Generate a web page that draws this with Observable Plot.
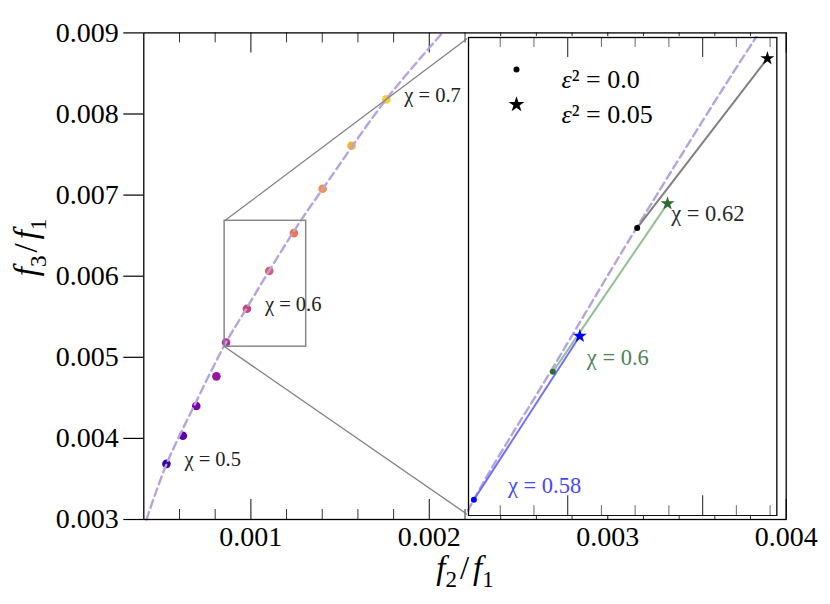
<!DOCTYPE html>
<html><head><meta charset="utf-8">
<script src="https://cdn.jsdelivr.net/npm/d3@7"></script>
<script src="https://cdn.jsdelivr.net/npm/@observablehq/plot@0.6"></script>
<style>
body{margin:0;background:#fff;}
#wrap{position:relative;width:830px;height:604px;}
#wrap svg{position:absolute;left:0;top:0;overflow:hidden;}
#wrap svg, #wrap svg text, #wrap svg tspan{font-family:"Liberation Serif","Times New Roman","DejaVu Serif",serif !important;}
</style></head><body><div id="wrap"></div>
<script>
// ---- main scatter (ε² = 0) ----
const chi = [0.50, 0.52, 0.54, 0.56, 0.58, 0.60, 0.62, 0.64, 0.66, 0.68, 0.70];
const f2f1 = [0.000527, 0.000619, 0.000694, 0.000807, 0.000861, 0.000978, 0.001103, 0.001241, 0.001402, 0.001564, 0.001759];
const f3f1 = [0.003686, 0.004032, 0.004399, 0.004765, 0.005183, 0.005598, 0.006065, 0.006531, 0.007078, 0.007609, 0.008180];
const labelledChi = [0.5, 0.6, 0.7];

// ---- dashed reference curve ----
const curveF2 = [0.000415, 0.000528, 0.000682, 0.000860, 0.000975, 0.001102, 0.001279, 0.001404, 0.001760, 0.002073];
const curveF3 = [0.003000, 0.003686, 0.004402, 0.005180, 0.005600, 0.006065, 0.006683, 0.007081, 0.008185, 0.009000];

// ---- inset: ε² = 0 -> ε² = 0.05 ----
const insetChi = [0.58, 0.60, 0.62];
const eps0F2 = [0.000861, 0.000978, 0.001103];
const eps0F3 = [0.005183, 0.005598, 0.006065];
const eps05F2 = [0.001018, 0.001148, 0.001296];
const eps05F3 = [0.005714, 0.006144, 0.006615];
const legendLabels = ["ε² = 0.0", "ε² = 0.05"];

// ---- axes / ticks ----
const xDomain = [0.0004, 0.004];
const yDomain = [0.003, 0.009];
const xMajor = [0.001, 0.002, 0.003, 0.004];
const xMinor = [0.0006, 0.0008, 0.0012, 0.0014, 0.0016, 0.0018, 0.0022, 0.0024, 0.0026, 0.0028, 0.0032, 0.0034, 0.0036, 0.0038];
const yTicks = [0.003, 0.004, 0.005, 0.006, 0.007, 0.008, 0.009];
const zoomF2 = [0.000853, 0.001310];
const zoomF3 = [0.005131, 0.006683];
const insetBoxF2 = [0.002222, 0.003950];
const insetBoxF3 = [0.003049, 0.008946];
const insetMajor = [0.001, 0.0012];
const insetMinor = [0.0009, 0.00095, 0.00105, 0.0011, 0.00115, 0.00125, 0.0013];

// ---- styles ----
const FONT = '"Liberation Serif", "Times New Roman", "DejaVu Serif", serif';
const markColor = {0.58: "#0000ff", 0.6: "#2e6b30", 0.62: "#000000"};
const segColor = {0.58: "#6e6eff", 0.6: "#93c093", 0.62: "#808080"};
const labColor = {0.58: "#4646ff", 0.6: "#4f824f", 0.62: "#2a2a2a"};

const points = chi.map((c, i) => ({chi: c, x: f2f1[i], y: f3f1[i]}));
const curve = curveF2.map((x, i) => ({x, y: curveF3[i]}));
const inset = insetChi.map((c, i) => ({chi: c, x0: eps0F2[i], y0: eps0F3[i], x1: eps05F2[i], y1: eps05F3[i]}));
const connectors = [
  {x1: zoomF2[0], y1: zoomF3[1], x2: insetBoxF2[0], y2: insetBoxF3[1]},
  {x1: zoomF2[0], y1: zoomF3[0], x2: insetBoxF2[0], y2: insetBoxF3[0]}
];

const W = 830, H = 604, mL = 143.3, mR = 44.3, mT = 32.4, mB = 85;
const frameH = H - mT - mB;
const dashStyle = {stroke: "#b7a4de", strokeWidth: 2.4, strokeDasharray: "8,4.5"};

const main = Plot.plot({
  width: W, height: H,
  marginLeft: mL, marginRight: mR, marginTop: mT, marginBottom: mB,
  style: {fontFamily: FONT, background: "white"},
  x: {domain: xDomain},
  y: {domain: yDomain},
  color: {type: "linear", scheme: "plasma", domain: [0.4805, 0.7244]},
  marks: [
    Plot.axisY({ticks: yTicks, tickSize: 20, tickPadding: 5, tickFormat: d3.format(".3f"), fontSize: 28, label: null, strokeWidth: 1.2}),
    Plot.axisX({ticks: xMajor, tickSize: 0, tickPadding: 7, tickFormat: d3.format(".3f"), fontSize: 28, label: null}),
    Plot.ruleX(xMinor, {insetTop: frameH - 10, stroke: "#333", strokeWidth: 1}),
    Plot.ruleX(xMinor, {insetBottom: frameH - 10, stroke: "#333", strokeWidth: 1}),
    Plot.ruleX(xMajor, {insetTop: frameH - 20, stroke: "#333", strokeWidth: 1.2}),
    Plot.ruleX(xMajor, {insetBottom: frameH - 20, stroke: "#333", strokeWidth: 1.2}),
    Plot.dot(points, {x: "x", y: "y", fill: "chi", r: 4.3}),
    Plot.line(curve, {x: "x", y: "y", curve: "catmull-rom", ...dashStyle}),
    Plot.rect([0], {x1: () => zoomF2[0], x2: () => zoomF2[1], y1: () => zoomF3[0], y2: () => zoomF3[1], fill: "none", stroke: "#888", strokeWidth: 1.5}),
    Plot.link(connectors, {x1: "x1", y1: "y1", x2: "x2", y2: "y2", stroke: "#808080", strokeWidth: 1.3}),
    Plot.text(points.filter(d => labelledChi.includes(d.chi)), {x: "x", y: "y", text: d => `χ = ${d.chi}`, dx: 18, dy: -4, textAnchor: "start", fontSize: 20.5, fill: "#222"}),
    Plot.text(["f2/f1"], {frameAnchor: "bottom", dy: 59, text: d => d, fontSize: 33, fill: "#000"}),
    Plot.text(["f3/f1"], {frameAnchor: "left", dx: -117, rotate: -90, text: d => d, fontSize: 33, fill: "#000"}),
    Plot.frame({stroke: "#000", strokeWidth: 1.3})
  ]
});

function mathLabel(svg, key, sub1, sub2, size) {
  const t = d3.select(svg).selectAll("text").filter(function() { return this.textContent === key; });
  t.text(null);
  const s = size * 0.25;
  t.append("tspan").attr("font-style", "italic").text("f");
  t.append("tspan").attr("font-size", size * 0.7).attr("dy", s).text(sub1);
  t.append("tspan").attr("dy", -s).attr("dx", 3).text("/");
  t.append("tspan").attr("font-style", "italic").attr("dx", 4).text("f");
  t.append("tspan").attr("font-size", size * 0.7).attr("dy", s).text(sub2);
}
mathLabel(main, "f2/f1", "2", "1", 33);
mathLabel(main, "f3/f1", "3", "1", 33);

const wrap = document.getElementById("wrap");
wrap.appendChild(main);

// ---- inset placement from main scales ----
const sx = main.scale("x"), sy = main.scale("y");
const iL = sx.apply(insetBoxF2[0]), iR = sx.apply(insetBoxF2[1]);
const iT = sy.apply(insetBoxF3[1]), iB = sy.apply(insetBoxF3[0]);
const iw = iR - iL, ih = iB - iT;

const insetPlot = Plot.plot({
  width: iw + 2, height: ih + 2, margin: 1,
  style: {fontFamily: FONT, background: "white"},
  x: {domain: zoomF2, axis: null},
  y: {domain: zoomF3, axis: null},
  marks: [
    Plot.ruleX(insetMinor, {insetTop: ih - 10, stroke: "#666", strokeWidth: 1}),
    Plot.ruleX(insetMinor, {insetBottom: ih - 10, stroke: "#666", strokeWidth: 1}),
    Plot.ruleX(insetMajor, {insetTop: ih - 20, stroke: "#444", strokeWidth: 1.2}),
    Plot.ruleX(insetMajor, {insetBottom: ih - 20, stroke: "#444", strokeWidth: 1.2}),
    Plot.line(curve, {x: "x", y: "y", curve: "catmull-rom", ...dashStyle}),
    Plot.link(inset, {x1: "x0", y1: "y0", x2: "x1", y2: "y1", stroke: d => segColor[d.chi], strokeWidth: 2}),
    Plot.dot(inset, {x: "x0", y: "y0", r: 3, fill: d => markColor[d.chi]}),
    Plot.dot(inset, {x: "x1", y: "y1", r: 4.4, symbol: "star", fill: d => markColor[d.chi]}),
    Plot.text(inset, {x: "x0", y: "y0", dx: 34, dy: -14, text: d => `χ = ${d.chi}`, textAnchor: "start", fontSize: 22.5, fill: d => labColor[d.chi]}),
    Plot.dot([legendLabels[0]], {frameAnchor: "top-left", dx: 48, dy: 32, r: 3, fill: "black"}),
    Plot.dot([legendLabels[1]], {frameAnchor: "top-left", dx: 48, dy: 67, r: 5, symbol: "star", fill: "black"}),
    Plot.text([legendLabels[0]], {frameAnchor: "top-left", dx: 93, dy: 32, text: d => d, textAnchor: "start", fontSize: 26, fill: "#000"}),
    Plot.text([legendLabels[1]], {frameAnchor: "top-left", dx: 93, dy: 67, text: d => d, textAnchor: "start", fontSize: 26, fill: "#000"}),
    Plot.frame({stroke: "#000", strokeWidth: 1.3})
  ]
});
insetPlot.style.left = (iL - 1) + "px";
insetPlot.style.top = (iT - 1) + "px";
wrap.appendChild(insetPlot);
// italic epsilon in legend
d3.select(insetPlot).selectAll("text").each(function() {
  const txt = this.textContent;
  if (txt.startsWith("ε²")) {
    const t = d3.select(this); t.text(null);
    t.append("tspan").attr("font-style", "italic").text("ε");
    t.append("tspan").text(txt.slice(1));
  }
});
</script></body></html>
